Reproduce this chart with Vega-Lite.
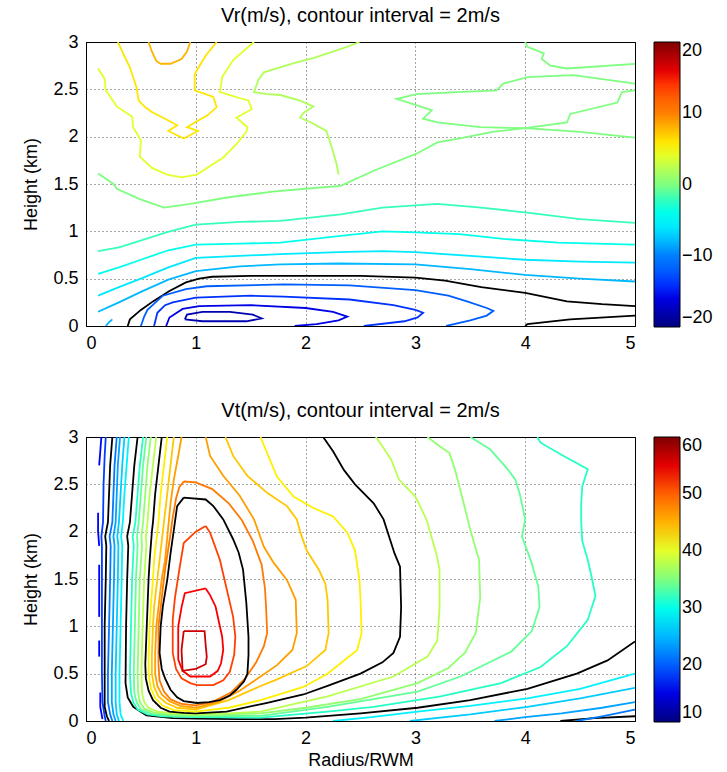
{
  "$schema": "https://vega.github.io/schema/vega-lite/v6.json",
  "background": "white",
  "padding": {"left": 22, "top": 5, "right": 5, "bottom": 5},
  "config": {
    "font": "Liberation Sans",
    "view": {"stroke": "#000", "strokeWidth": 1},
    "axis": {"labelFontSize": 18, "labelColor": "#000", "titleFontSize": 18, "titleFontWeight": "normal", "titleColor": "#000", "domainColor": "#000", "grid": true, "gridColor": "#000", "gridDash": [1, 3], "gridOpacity": 0.7, "ticks": false, "labelPadding": 8},
    "axisY": {"titlePadding": 12},
    "axisX": {"titlePadding": 4},
    "legend": {"title": null, "gradientLength": 285, "gradientThickness": 26, "labelFontSize": 18, "labelColor": "#000", "offset": 19, "padding": 0, "gradientStrokeColor": "#000", "gradientStrokeWidth": 1, "labelOffset": 4, "labelOverlap": false, "labelBaseline": "middle", "direction": "vertical", "labelExpr": "datum.value + ''"},
    "title": {"fontSize": 20, "fontWeight": "normal", "color": "#000", "offset": 7}
  },
  "resolve": {"scale": {"color": "independent"}, "legend": {"color": "independent"}},
  "spacing": 47,
  "vconcat": [
    {
      "title": "Vr(m/s), contour interval = 2m/s",
      "width": 549,
      "height": 284,
      "data": {"values": [
        {"c":"p8","v":8,"r":0.57,"z":3},{"c":"p8","v":8,"r":0.6,"z":2.9},{"c":"p8","v":8,"r":0.64,"z":2.8},{"c":"p8","v":8,"r":0.68,"z":2.77},{"c":"p8","v":8,"r":0.77,"z":2.77},{"c":"p8","v":8,"r":0.87,"z":2.82},{"c":"p8","v":8,"r":0.92,"z":2.9},{"c":"p8","v":8,"r":0.95,"z":3},
        {"c":"p6","v":6,"r":0.29,"z":3},{"c":"p6","v":6,"r":0.35,"z":2.85},{"c":"p6","v":6,"r":0.4,"z":2.73},{"c":"p6","v":6,"r":0.46,"z":2.52},{"c":"p6","v":6,"r":0.48,"z":2.38},{"c":"p6","v":6,"r":0.54,"z":2.31},{"c":"p6","v":6,"r":0.6,"z":2.26},{"c":"p6","v":6,"r":0.75,"z":2.17},{"c":"p6","v":6,"r":0.83,"z":2.12},{"c":"p6","v":6,"r":0.75,"z":2.06},{"c":"p6","v":6,"r":0.89,"z":1.98},{"c":"p6","v":6,"r":1.02,"z":2.06},{"c":"p6","v":6,"r":0.92,"z":2.1},{"c":"p6","v":6,"r":0.99,"z":2.15},{"c":"p6","v":6,"r":1.1,"z":2.22},{"c":"p6","v":6,"r":1.19,"z":2.31},{"c":"p6","v":6,"r":1.16,"z":2.42},{"c":"p6","v":6,"r":0.99,"z":2.49},{"c":"p6","v":6,"r":0.99,"z":2.66},{"c":"p6","v":6,"r":1.05,"z":2.78},{"c":"p6","v":6,"r":1.1,"z":2.87},{"c":"p6","v":6,"r":1.19,"z":3},
        {"c":"p4","v":4,"r":0.11,"z":2.72},{"c":"p4","v":4,"r":0.17,"z":2.61},{"c":"p4","v":4,"r":0.18,"z":2.49},{"c":"p4","v":4,"r":0.28,"z":2.32},{"c":"p4","v":4,"r":0.42,"z":2.21},{"c":"p4","v":4,"r":0.43,"z":2.1},{"c":"p4","v":4,"r":0.5,"z":1.96},{"c":"p4","v":4,"r":0.49,"z":1.79},{"c":"p4","v":4,"r":0.6,"z":1.67},{"c":"p4","v":4,"r":0.74,"z":1.6},{"c":"p4","v":4,"r":0.87,"z":1.57},{"c":"p4","v":4,"r":1.01,"z":1.6},{"c":"p4","v":4,"r":1.25,"z":1.78},{"c":"p4","v":4,"r":1.37,"z":1.92},{"c":"p4","v":4,"r":1.46,"z":2.05},{"c":"p4","v":4,"r":1.47,"z":2.1},{"c":"p4","v":4,"r":1.37,"z":2.2},{"c":"p4","v":4,"r":1.51,"z":2.29},{"c":"p4","v":4,"r":1.48,"z":2.38},{"c":"p4","v":4,"r":1.22,"z":2.47},{"c":"p4","v":4,"r":1.24,"z":2.63},{"c":"p4","v":4,"r":1.34,"z":2.81},{"c":"p4","v":4,"r":1.53,"z":3},
        {"c":"p2","v":2,"r":2.49,"z":3},{"c":"p2","v":2,"r":2.38,"z":2.95},{"c":"p2","v":2,"r":2.2,"z":2.88},{"c":"p2","v":2,"r":2.07,"z":2.83},{"c":"p2","v":2,"r":1.9,"z":2.78},{"c":"p2","v":2,"r":1.76,"z":2.73},{"c":"p2","v":2,"r":1.62,"z":2.68},{"c":"p2","v":2,"r":1.57,"z":2.6},{"c":"p2","v":2,"r":1.53,"z":2.47},{"c":"p2","v":2,"r":1.65,"z":2.45},{"c":"p2","v":2,"r":1.77,"z":2.44},{"c":"p2","v":2,"r":1.95,"z":2.38},{"c":"p2","v":2,"r":2.07,"z":2.32},{"c":"p2","v":2,"r":1.98,"z":2.25},{"c":"p2","v":2,"r":1.95,"z":2.2},{"c":"p2","v":2,"r":2.05,"z":2.15},{"c":"p2","v":2,"r":2.19,"z":2.06},{"c":"p2","v":2,"r":2.24,"z":1.88},{"c":"p2","v":2,"r":2.28,"z":1.72},{"c":"p2","v":2,"r":2.3,"z":1.6},
        {"c":"z0","v":0,"r":0.11,"z":1.61},{"c":"z0","v":0,"r":0.25,"z":1.5},{"c":"z0","v":0,"r":0.28,"z":1.45},{"c":"z0","v":0,"r":0.49,"z":1.34},{"c":"z0","v":0,"r":0.71,"z":1.25},{"c":"z0","v":0,"r":0.95,"z":1.29},{"c":"z0","v":0,"r":1.3,"z":1.36},{"c":"z0","v":0,"r":1.7,"z":1.42},{"c":"z0","v":0,"r":2.0,"z":1.45},{"c":"z0","v":0,"r":2.32,"z":1.48},{"c":"z0","v":0,"r":2.62,"z":1.64},{"c":"z0","v":0,"r":3.01,"z":1.82},{"c":"z0","v":0,"r":3.2,"z":1.94},{"c":"z0","v":0,"r":3.44,"z":1.99},{"c":"z0","v":0,"r":3.7,"z":2.05},{"c":"z0","v":0,"r":4.0,"z":2.09},{"c":"z0","v":0,"r":4.5,"z":2.05},{"c":"z0","v":0,"r":5,"z":1.99},
        {"c":"e0","v":0,"r":5,"z":2.56},{"c":"e0","v":0,"r":4.44,"z":2.65},{"c":"e0","v":0,"r":4.02,"z":2.63},{"c":"e0","v":0,"r":3.8,"z":2.56},{"c":"e0","v":0,"r":3.74,"z":2.49},{"c":"e0","v":0,"r":3.38,"z":2.47},{"c":"e0","v":0,"r":3.01,"z":2.45},{"c":"e0","v":0,"r":2.83,"z":2.4},{"c":"e0","v":0,"r":3.15,"z":2.28},{"c":"e0","v":0,"r":3.07,"z":2.19},{"c":"e0","v":0,"r":3.2,"z":2.15},{"c":"e0","v":0,"r":3.59,"z":2.1},{"c":"e0","v":0,"r":4.0,"z":2.09},{"c":"e0","v":0,"r":4.38,"z":2.15},{"c":"e0","v":0,"r":4.41,"z":2.24},{"c":"e0","v":0,"r":4.84,"z":2.36},{"c":"e0","v":0,"r":4.88,"z":2.47},{"c":"e0","v":0,"r":5,"z":2.49},
        {"c":"d0","v":0,"r":4.0,"z":3},{"c":"d0","v":0,"r":4.02,"z":2.95},{"c":"d0","v":0,"r":4.17,"z":2.88},{"c":"d0","v":0,"r":4.15,"z":2.82},{"c":"d0","v":0,"r":4.23,"z":2.75},{"c":"d0","v":0,"r":4.38,"z":2.72},{"c":"d0","v":0,"r":5,"z":2.77},
        {"c":"m2","v":-2,"r":0.11,"z":0.79},{"c":"m2","v":-2,"r":0.3,"z":0.83},{"c":"m2","v":-2,"r":0.49,"z":0.9},{"c":"m2","v":-2,"r":0.73,"z":0.99},{"c":"m2","v":-2,"r":1.0,"z":1.07},{"c":"m2","v":-2,"r":1.4,"z":1.1},{"c":"m2","v":-2,"r":1.77,"z":1.11},{"c":"m2","v":-2,"r":2.32,"z":1.18},{"c":"m2","v":-2,"r":2.7,"z":1.25},{"c":"m2","v":-2,"r":3.2,"z":1.29},{"c":"m2","v":-2,"r":3.6,"z":1.25},{"c":"m2","v":-2,"r":4.0,"z":1.2},{"c":"m2","v":-2,"r":4.5,"z":1.13},{"c":"m2","v":-2,"r":5,"z":1.09},
        {"c":"m4","v":-4,"r":0.11,"z":0.55},{"c":"m4","v":-4,"r":0.3,"z":0.62},{"c":"m4","v":-4,"r":0.5,"z":0.7},{"c":"m4","v":-4,"r":0.75,"z":0.8},{"c":"m4","v":-4,"r":1.0,"z":0.86},{"c":"m4","v":-4,"r":1.4,"z":0.87},{"c":"m4","v":-4,"r":1.77,"z":0.88},{"c":"m4","v":-4,"r":2.3,"z":0.95},{"c":"m4","v":-4,"r":2.7,"z":1.0},{"c":"m4","v":-4,"r":3.0,"z":0.99},{"c":"m4","v":-4,"r":3.4,"z":0.97},{"c":"m4","v":-4,"r":3.8,"z":0.92},{"c":"m4","v":-4,"r":4.3,"z":0.88},{"c":"m4","v":-4,"r":5,"z":0.86},
        {"c":"m6","v":-6,"r":0.11,"z":0.32},{"c":"m6","v":-6,"r":0.3,"z":0.41},{"c":"m6","v":-6,"r":0.5,"z":0.5},{"c":"m6","v":-6,"r":0.75,"z":0.62},{"c":"m6","v":-6,"r":1.0,"z":0.72},{"c":"m6","v":-6,"r":1.4,"z":0.74},{"c":"m6","v":-6,"r":1.77,"z":0.76},{"c":"m6","v":-6,"r":2.3,"z":0.78},{"c":"m6","v":-6,"r":2.7,"z":0.79},{"c":"m6","v":-6,"r":3.0,"z":0.78},{"c":"m6","v":-6,"r":3.5,"z":0.74},{"c":"m6","v":-6,"r":4.0,"z":0.7},{"c":"m6","v":-6,"r":4.5,"z":0.68},{"c":"m6","v":-6,"r":5,"z":0.67},
        {"c":"m8","v":-8,"r":0.11,"z":0.15},{"c":"m8","v":-8,"r":0.3,"z":0.25},{"c":"m8","v":-8,"r":0.5,"z":0.36},{"c":"m8","v":-8,"r":0.75,"z":0.49},{"c":"m8","v":-8,"r":1.0,"z":0.58},{"c":"m8","v":-8,"r":1.4,"z":0.63},{"c":"m8","v":-8,"r":1.77,"z":0.65},{"c":"m8","v":-8,"r":2.3,"z":0.66},{"c":"m8","v":-8,"r":3.0,"z":0.65},{"c":"m8","v":-8,"r":3.5,"z":0.6},{"c":"m8","v":-8,"r":4.0,"z":0.54},{"c":"m8","v":-8,"r":4.5,"z":0.5},{"c":"m8","v":-8,"r":5,"z":0.47},
        {"c":"m8b","v":-8,"r":0.18,"z":0},{"c":"m8b","v":-8,"r":0.21,"z":0.04},{"c":"m8b","v":-8,"r":0.24,"z":0.07},
        {"c":"k10","v":-10,"r":0.38,"z":0},{"c":"k10","v":-10,"r":0.4,"z":0.07},{"c":"k10","v":-10,"r":0.5,"z":0.17},{"c":"k10","v":-10,"r":0.61,"z":0.26},{"c":"k10","v":-10,"r":0.76,"z":0.37},{"c":"k10","v":-10,"r":0.91,"z":0.46},{"c":"k10","v":-10,"r":1.03,"z":0.5},{"c":"k10","v":-10,"r":1.15,"z":0.52},{"c":"k10","v":-10,"r":1.5,"z":0.53},{"c":"k10","v":-10,"r":1.82,"z":0.53},{"c":"k10","v":-10,"r":2.5,"z":0.53},{"c":"k10","v":-10,"r":3.0,"z":0.51},{"c":"k10","v":-10,"r":3.27,"z":0.48},{"c":"k10","v":-10,"r":3.6,"z":0.41},{"c":"k10","v":-10,"r":4.0,"z":0.35},{"c":"k10","v":-10,"r":4.38,"z":0.26},{"c":"k10","v":-10,"r":4.7,"z":0.23},{"c":"k10","v":-10,"r":5,"z":0.21},
        {"c":"k10b","v":-10,"r":4.0,"z":0},{"c":"k10b","v":-10,"r":4.02,"z":0.02},{"c":"k10b","v":-10,"r":4.41,"z":0.07},{"c":"k10b","v":-10,"r":5,"z":0.11},
        {"c":"m12","v":-12,"r":0.5,"z":0},{"c":"m12","v":-12,"r":0.53,"z":0.1},{"c":"m12","v":-12,"r":0.56,"z":0.17},{"c":"m12","v":-12,"r":0.7,"z":0.32},{"c":"m12","v":-12,"r":0.91,"z":0.39},{"c":"m12","v":-12,"r":1.1,"z":0.42},{"c":"m12","v":-12,"r":1.8,"z":0.44},{"c":"m12","v":-12,"r":2.4,"z":0.43},{"c":"m12","v":-12,"r":3.0,"z":0.38},{"c":"m12","v":-12,"r":3.3,"z":0.32},{"c":"m12","v":-12,"r":3.47,"z":0.26},{"c":"m12","v":-12,"r":3.65,"z":0.19},{"c":"m12","v":-12,"r":3.71,"z":0.16},{"c":"m12","v":-12,"r":3.65,"z":0.11},{"c":"m12","v":-12,"r":3.5,"z":0.06},{"c":"m12","v":-12,"r":3.28,"z":0},
        {"c":"m14","v":-14,"r":0.62,"z":0},{"c":"m14","v":-14,"r":0.65,"z":0.14},{"c":"m14","v":-14,"r":0.72,"z":0.22},{"c":"m14","v":-14,"r":0.79,"z":0.25},{"c":"m14","v":-14,"r":1.0,"z":0.3},{"c":"m14","v":-14,"r":1.5,"z":0.32},{"c":"m14","v":-14,"r":1.8,"z":0.31},{"c":"m14","v":-14,"r":2.4,"z":0.28},{"c":"m14","v":-14,"r":2.8,"z":0.22},{"c":"m14","v":-14,"r":3.0,"z":0.17},{"c":"m14","v":-14,"r":3.07,"z":0.14},{"c":"m14","v":-14,"r":3.02,"z":0.09},{"c":"m14","v":-14,"r":2.9,"z":0.05},{"c":"m14","v":-14,"r":2.53,"z":0},
        {"c":"m16","v":-16,"r":0.73,"z":0},{"c":"m16","v":-16,"r":0.76,"z":0.09},{"c":"m16","v":-16,"r":0.88,"z":0.18},{"c":"m16","v":-16,"r":1.03,"z":0.21},{"c":"m16","v":-16,"r":1.5,"z":0.22},{"c":"m16","v":-16,"r":2.0,"z":0.19},{"c":"m16","v":-16,"r":2.25,"z":0.15},{"c":"m16","v":-16,"r":2.38,"z":0.1},{"c":"m16","v":-16,"r":2.3,"z":0.06},{"c":"m16","v":-16,"r":2.1,"z":0.02},{"c":"m16","v":-16,"r":1.9,"z":0},
        {"c":"m18","v":-18,"r":0.9,"z":0.07},{"c":"m18","v":-18,"r":0.92,"z":0.12},{"c":"m18","v":-18,"r":1.06,"z":0.15},{"c":"m18","v":-18,"r":1.31,"z":0.15},{"c":"m18","v":-18,"r":1.52,"z":0.12},{"c":"m18","v":-18,"r":1.6,"z":0.08},{"c":"m18","v":-18,"r":1.46,"z":0.05},{"c":"m18","v":-18,"r":1.06,"z":0.05},{"c":"m18","v":-18,"r":0.9,"z":0.07}
      ]},
      "mark": {"type": "line", "order": false, "clip": true, "strokeWidth": 1.8},
      "encoding": {
        "detail": {"field": "c"},
        "x": {"field": "r", "type": "quantitative", "scale": {"domain": [0, 5], "nice": false, "zero": false}, "axis": {"values": [0, 1, 2, 3, 4, 5], "title": null}},
        "y": {"field": "z", "type": "quantitative", "scale": {"domain": [0, 3], "nice": false}, "axis": {"values": [0, 0.5, 1, 1.5, 2, 2.5, 3], "format": "~g", "title": "Height (km)"}},
        "color": {
          "condition": {"test": "datum.v % 10 === 0 && datum.v !== 0", "value": "#000"},
          "field": "v", "type": "quantitative",
          "scale": {"domain": [-20, -15, -10, -5, 0, 5, 10, 15, 20], "range": ["#00007f", "#0000ff", "#007fff", "#00ffff", "#7fff7f", "#ffff00", "#ff7f00", "#ff0000", "#7f0000"]},
          "legend": {"values": [-20, -10, 0, 10, 20]}
        }
      }
    },
    {
      "title": "Vt(m/s), contour interval = 2m/s",
      "width": 549,
      "height": 284,
      "data": {"values": [
        {"c":"s16a","v":16,"r":0.14,"z":3},{"c":"s16a","v":16,"r":0.13,"z":2.85},{"c":"s16a","v":16,"r":0.12,"z":2.7},
        {"c":"s16b","v":16,"r":0.11,"z":2.2},{"c":"s16b","v":16,"r":0.11,"z":2.0},{"c":"s16b","v":16,"r":0.12,"z":1.85},
        {"c":"s16c","v":16,"r":0.12,"z":1.65},{"c":"s16c","v":16,"r":0.12,"z":1.4},{"c":"s16c","v":16,"r":0.12,"z":1.1},
        {"c":"s16d","v":16,"r":0.12,"z":0.85},{"c":"s16d","v":16,"r":0.12,"z":0.68},
        {"c":"s16e","v":16,"r":0.13,"z":0.3},{"c":"s16e","v":16,"r":0.13,"z":0.15},{"c":"s16e","v":16,"r":0.15,"z":0.02},
        {"c":"s18","v":18,"r":0.18,"z":3},{"c":"s18","v":18,"r":0.17,"z":2.8},{"c":"s18","v":18,"r":0.16,"z":2.5},{"c":"s18","v":18,"r":0.155,"z":2.1},{"c":"s18","v":18,"r":0.14,"z":1.95},{"c":"s18","v":18,"r":0.145,"z":1.85},{"c":"s18","v":18,"r":0.145,"z":1.5},{"c":"s18","v":18,"r":0.145,"z":1.0},{"c":"s18","v":18,"r":0.145,"z":0.5},{"c":"s18","v":18,"r":0.15,"z":0.2},{"c":"s18","v":18,"r":0.17,"z":0.05},{"c":"s18","v":18,"r":0.18,"z":0},
        {"c":"k20","v":20,"r":0.24,"z":3},{"c":"k20","v":20,"r":0.22,"z":2.7},{"c":"k20","v":20,"r":0.21,"z":2.4},{"c":"k20","v":20,"r":0.2,"z":2.1},{"c":"k20","v":20,"r":0.175,"z":1.95},{"c":"k20","v":20,"r":0.185,"z":1.85},{"c":"k20","v":20,"r":0.18,"z":1.5},{"c":"k20","v":20,"r":0.17,"z":1.0},{"c":"k20","v":20,"r":0.17,"z":0.5},{"c":"k20","v":20,"r":0.17,"z":0.15},{"c":"k20","v":20,"r":0.19,"z":0.05},{"c":"k20","v":20,"r":0.21,"z":0},
        {"c":"k20b","v":20,"r":4.32,"z":0},{"c":"k20b","v":20,"r":4.63,"z":0.03},{"c":"k20b","v":20,"r":5,"z":0.05},
        {"c":"s22","v":22,"r":0.28,"z":3},{"c":"s22","v":22,"r":0.26,"z":2.7},{"c":"s22","v":22,"r":0.25,"z":2.4},{"c":"s22","v":22,"r":0.24,"z":2.1},{"c":"s22","v":22,"r":0.215,"z":1.95},{"c":"s22","v":22,"r":0.225,"z":1.85},{"c":"s22","v":22,"r":0.22,"z":1.5},{"c":"s22","v":22,"r":0.21,"z":1.0},{"c":"s22","v":22,"r":0.2,"z":0.5},{"c":"s22","v":22,"r":0.2,"z":0.2},{"c":"s22","v":22,"r":0.22,"z":0.07},{"c":"s22","v":22,"r":0.24,"z":0},
        {"c":"s22b","v":22,"r":4.47,"z":0},{"c":"s22b","v":22,"r":4.7,"z":0.05},{"c":"s22b","v":22,"r":5,"z":0.12},
        {"c":"s24","v":24,"r":0.31,"z":3},{"c":"s24","v":24,"r":0.29,"z":2.7},{"c":"s24","v":24,"r":0.28,"z":2.4},{"c":"s24","v":24,"r":0.27,"z":2.1},{"c":"s24","v":24,"r":0.25,"z":1.95},{"c":"s24","v":24,"r":0.26,"z":1.85},{"c":"s24","v":24,"r":0.255,"z":1.5},{"c":"s24","v":24,"r":0.245,"z":1.0},{"c":"s24","v":24,"r":0.235,"z":0.5},{"c":"s24","v":24,"r":0.235,"z":0.2},{"c":"s24","v":24,"r":0.25,"z":0.07},{"c":"s24","v":24,"r":0.27,"z":0},
        {"c":"s24b","v":24,"r":3.72,"z":0},{"c":"s24b","v":24,"r":4.0,"z":0.04},{"c":"s24b","v":24,"r":4.33,"z":0.08},{"c":"s24b","v":24,"r":4.7,"z":0.14},{"c":"s24b","v":24,"r":5,"z":0.2},
        {"c":"s26","v":26,"r":0.35,"z":3},{"c":"s26","v":26,"r":0.33,"z":2.7},{"c":"s26","v":26,"r":0.315,"z":2.4},{"c":"s26","v":26,"r":0.3,"z":2.1},{"c":"s26","v":26,"r":0.285,"z":1.95},{"c":"s26","v":26,"r":0.295,"z":1.85},{"c":"s26","v":26,"r":0.29,"z":1.5},{"c":"s26","v":26,"r":0.28,"z":1.0},{"c":"s26","v":26,"r":0.27,"z":0.5},{"c":"s26","v":26,"r":0.27,"z":0.2},{"c":"s26","v":26,"r":0.28,"z":0.07},{"c":"s26","v":26,"r":0.3,"z":0},
        {"c":"s26b","v":26,"r":2.95,"z":0},{"c":"s26b","v":26,"r":3.5,"z":0.07},{"c":"s26b","v":26,"r":4.02,"z":0.15},{"c":"s26b","v":26,"r":4.5,"z":0.24},{"c":"s26b","v":26,"r":5,"z":0.35},
        {"c":"s28","v":28,"r":0.39,"z":3},{"c":"s28","v":28,"r":0.37,"z":2.7},{"c":"s28","v":28,"r":0.35,"z":2.4},{"c":"s28","v":28,"r":0.335,"z":2.1},{"c":"s28","v":28,"r":0.32,"z":1.95},{"c":"s28","v":28,"r":0.33,"z":1.85},{"c":"s28","v":28,"r":0.325,"z":1.5},{"c":"s28","v":28,"r":0.315,"z":1.0},{"c":"s28","v":28,"r":0.305,"z":0.5},{"c":"s28","v":28,"r":0.305,"z":0.2},{"c":"s28","v":28,"r":0.315,"z":0.07},{"c":"s28","v":28,"r":0.34,"z":0},
        {"c":"s28b","v":28,"r":2.25,"z":0},{"c":"s28b","v":28,"r":2.6,"z":0.04},{"c":"s28b","v":28,"r":3.02,"z":0.1},{"c":"s28b","v":28,"r":3.5,"z":0.16},{"c":"s28b","v":28,"r":4.02,"z":0.24},{"c":"s28b","v":28,"r":4.5,"z":0.34},{"c":"s28b","v":28,"r":5,"z":0.5},
        {"c":"k30","v":30,"r":0.47,"z":3},{"c":"k30","v":30,"r":0.44,"z":2.7},{"c":"k30","v":30,"r":0.42,"z":2.4},{"c":"k30","v":30,"r":0.4,"z":2.1},{"c":"k30","v":30,"r":0.375,"z":1.95},{"c":"k30","v":30,"r":0.385,"z":1.85},{"c":"k30","v":30,"r":0.375,"z":1.5},{"c":"k30","v":30,"r":0.365,"z":1.0},{"c":"k30","v":30,"r":0.36,"z":0.4},{"c":"k30","v":30,"r":0.38,"z":0.25},{"c":"k30","v":30,"r":0.43,"z":0.15},{"c":"k30","v":30,"r":0.55,"z":0.06},{"c":"k30","v":30,"r":0.79,"z":0.03},{"c":"k30","v":30,"r":1.0,"z":0.025},{"c":"k30","v":30,"r":1.4,"z":0.02},{"c":"k30","v":30,"r":1.72,"z":0.02},{"c":"k30","v":30,"r":2.0,"z":0.035},{"c":"k30","v":30,"r":2.5,"z":0.08},{"c":"k30","v":30,"r":3.02,"z":0.14},{"c":"k30","v":30,"r":3.5,"z":0.22},{"c":"k30","v":30,"r":4.02,"z":0.34},{"c":"k30","v":30,"r":4.47,"z":0.5},{"c":"k30","v":30,"r":4.75,"z":0.64},{"c":"k30","v":30,"r":5,"z":0.84},
        {"c":"s32","v":32,"r":0.52,"z":3},{"c":"s32","v":32,"r":0.49,"z":2.7},{"c":"s32","v":32,"r":0.47,"z":2.4},{"c":"s32","v":32,"r":0.45,"z":2.1},{"c":"s32","v":32,"r":0.425,"z":1.95},{"c":"s32","v":32,"r":0.435,"z":1.85},{"c":"s32","v":32,"r":0.42,"z":1.5},{"c":"s32","v":32,"r":0.41,"z":1.0},{"c":"s32","v":32,"r":0.4,"z":0.5},{"c":"s32","v":32,"r":0.41,"z":0.3},{"c":"s32","v":32,"r":0.43,"z":0.2},{"c":"s32","v":32,"r":0.47,"z":0.12},{"c":"s32","v":32,"r":0.56,"z":0.07},{"c":"s32","v":32,"r":0.7,"z":0.05},{"c":"s32","v":32,"r":1.0,"z":0.04},{"c":"s32","v":32,"r":1.59,"z":0.035},{"c":"s32","v":32,"r":2.2,"z":0.1},{"c":"s32","v":32,"r":2.62,"z":0.15},{"c":"s32","v":32,"r":3.23,"z":0.26},{"c":"s32","v":32,"r":3.78,"z":0.4},{"c":"s32","v":32,"r":4.14,"z":0.57},{"c":"s32","v":32,"r":4.38,"z":0.79},{"c":"s32","v":32,"r":4.57,"z":1.07},{"c":"s32","v":32,"r":4.64,"z":1.32},{"c":"s32","v":32,"r":4.6,"z":1.55},{"c":"s32","v":32,"r":4.57,"z":1.7},{"c":"s32","v":32,"r":4.52,"z":1.9},{"c":"s32","v":32,"r":4.51,"z":2.1},{"c":"s32","v":32,"r":4.51,"z":2.3},{"c":"s32","v":32,"r":4.52,"z":2.48},{"c":"s32","v":32,"r":4.57,"z":2.66},{"c":"s32","v":32,"r":4.35,"z":2.8},{"c":"s32","v":32,"r":4.14,"z":2.94},{"c":"s32","v":32,"r":4.11,"z":3},
        {"c":"s34","v":34,"r":0.55,"z":3},{"c":"s34","v":34,"r":0.52,"z":2.7},{"c":"s34","v":34,"r":0.5,"z":2.4},{"c":"s34","v":34,"r":0.48,"z":2.1},{"c":"s34","v":34,"r":0.465,"z":1.95},{"c":"s34","v":34,"r":0.47,"z":1.85},{"c":"s34","v":34,"r":0.455,"z":1.5},{"c":"s34","v":34,"r":0.445,"z":1.0},{"c":"s34","v":34,"r":0.435,"z":0.5},{"c":"s34","v":34,"r":0.44,"z":0.3},{"c":"s34","v":34,"r":0.46,"z":0.2},{"c":"s34","v":34,"r":0.5,"z":0.12},{"c":"s34","v":34,"r":0.6,"z":0.075},{"c":"s34","v":34,"r":0.75,"z":0.058},{"c":"s34","v":34,"r":1.0,"z":0.05},{"c":"s34","v":34,"r":1.59,"z":0.055},{"c":"s34","v":34,"r":2.2,"z":0.15},{"c":"s34","v":34,"r":3.02,"z":0.31},{"c":"s34","v":34,"r":3.41,"z":0.47},{"c":"s34","v":34,"r":3.87,"z":0.73},{"c":"s34","v":34,"r":4.06,"z":0.95},{"c":"s34","v":34,"r":4.13,"z":1.2},{"c":"s34","v":34,"r":4.12,"z":1.42},{"c":"s34","v":34,"r":4.05,"z":1.7},{"c":"s34","v":34,"r":3.97,"z":1.95},{"c":"s34","v":34,"r":4.0,"z":2.13},{"c":"s34","v":34,"r":3.95,"z":2.4},{"c":"s34","v":34,"r":3.91,"z":2.55},{"c":"s34","v":34,"r":3.84,"z":2.66},{"c":"s34","v":34,"r":3.68,"z":2.87},{"c":"s34","v":34,"r":3.5,"z":3},
        {"c":"s36","v":36,"r":0.59,"z":3},{"c":"s36","v":36,"r":0.56,"z":2.7},{"c":"s36","v":36,"r":0.54,"z":2.4},{"c":"s36","v":36,"r":0.52,"z":2.1},{"c":"s36","v":36,"r":0.505,"z":1.95},{"c":"s36","v":36,"r":0.51,"z":1.85},{"c":"s36","v":36,"r":0.49,"z":1.5},{"c":"s36","v":36,"r":0.48,"z":1.0},{"c":"s36","v":36,"r":0.47,"z":0.5},{"c":"s36","v":36,"r":0.475,"z":0.3},{"c":"s36","v":36,"r":0.49,"z":0.2},{"c":"s36","v":36,"r":0.53,"z":0.13},{"c":"s36","v":36,"r":0.62,"z":0.088},{"c":"s36","v":36,"r":0.75,"z":0.07},{"c":"s36","v":36,"r":1.0,"z":0.062},{"c":"s36","v":36,"r":1.59,"z":0.08},{"c":"s36","v":36,"r":2.0,"z":0.14},{"c":"s36","v":36,"r":2.5,"z":0.23},{"c":"s36","v":36,"r":3.02,"z":0.4},{"c":"s36","v":36,"r":3.3,"z":0.56},{"c":"s36","v":36,"r":3.45,"z":0.72},{"c":"s36","v":36,"r":3.55,"z":0.93},{"c":"s36","v":36,"r":3.59,"z":1.3},{"c":"s36","v":36,"r":3.58,"z":1.7},{"c":"s36","v":36,"r":3.5,"z":2.02},{"c":"s36","v":36,"r":3.44,"z":2.3},{"c":"s36","v":36,"r":3.36,"z":2.66},{"c":"s36","v":36,"r":3.31,"z":2.83},{"c":"s36","v":36,"r":3.2,"z":2.92},{"c":"s36","v":36,"r":3.11,"z":3},
        {"c":"s38","v":38,"r":0.64,"z":3},{"c":"s38","v":38,"r":0.61,"z":2.7},{"c":"s38","v":38,"r":0.58,"z":2.4},{"c":"s38","v":38,"r":0.56,"z":2.1},{"c":"s38","v":38,"r":0.545,"z":1.95},{"c":"s38","v":38,"r":0.55,"z":1.85},{"c":"s38","v":38,"r":0.53,"z":1.5},{"c":"s38","v":38,"r":0.515,"z":1.0},{"c":"s38","v":38,"r":0.505,"z":0.5},{"c":"s38","v":38,"r":0.51,"z":0.3},{"c":"s38","v":38,"r":0.53,"z":0.2},{"c":"s38","v":38,"r":0.57,"z":0.14},{"c":"s38","v":38,"r":0.65,"z":0.1},{"c":"s38","v":38,"r":0.8,"z":0.08},{"c":"s38","v":38,"r":1.0,"z":0.072},{"c":"s38","v":38,"r":1.3,"z":0.08},{"c":"s38","v":38,"r":1.59,"z":0.1},{"c":"s38","v":38,"r":2.2,"z":0.26},{"c":"s38","v":38,"r":2.8,"z":0.47},{"c":"s38","v":38,"r":3.11,"z":0.68},{"c":"s38","v":38,"r":3.2,"z":0.85},{"c":"s38","v":38,"r":3.22,"z":1.2},{"c":"s38","v":38,"r":3.22,"z":1.6},{"c":"s38","v":38,"r":3.19,"z":1.77},{"c":"s38","v":38,"r":3.1,"z":2.13},{"c":"s38","v":38,"r":3.0,"z":2.37},{"c":"s38","v":38,"r":2.85,"z":2.55},{"c":"s38","v":38,"r":2.78,"z":2.76},{"c":"s38","v":38,"r":2.7,"z":2.9},{"c":"s38","v":38,"r":2.64,"z":3},
        {"c":"k40","v":40,"r":0.69,"z":3},{"c":"k40","v":40,"r":0.66,"z":2.7},{"c":"k40","v":40,"r":0.63,"z":2.4},{"c":"k40","v":40,"r":0.61,"z":2.1},{"c":"k40","v":40,"r":0.6,"z":2.0},{"c":"k40","v":40,"r":0.58,"z":1.7},{"c":"k40","v":40,"r":0.57,"z":1.5},{"c":"k40","v":40,"r":0.56,"z":1.2},{"c":"k40","v":40,"r":0.55,"z":0.9},{"c":"k40","v":40,"r":0.54,"z":0.6},{"c":"k40","v":40,"r":0.545,"z":0.45},{"c":"k40","v":40,"r":0.57,"z":0.32},{"c":"k40","v":40,"r":0.61,"z":0.22},{"c":"k40","v":40,"r":0.68,"z":0.14},{"c":"k40","v":40,"r":0.76,"z":0.1},{"c":"k40","v":40,"r":0.89,"z":0.085},{"c":"k40","v":40,"r":1.0,"z":0.08},{"c":"k40","v":40,"r":1.28,"z":0.1},{"c":"k40","v":40,"r":1.64,"z":0.19},{"c":"k40","v":40,"r":1.98,"z":0.28},{"c":"k40","v":40,"r":2.2,"z":0.37},{"c":"k40","v":40,"r":2.5,"z":0.5},{"c":"k40","v":40,"r":2.7,"z":0.62},{"c":"k40","v":40,"r":2.8,"z":0.72},{"c":"k40","v":40,"r":2.86,"z":0.89},{"c":"k40","v":40,"r":2.87,"z":1.2},{"c":"k40","v":40,"r":2.86,"z":1.63},{"c":"k40","v":40,"r":2.81,"z":1.77},{"c":"k40","v":40,"r":2.71,"z":2.13},{"c":"k40","v":40,"r":2.62,"z":2.3},{"c":"k40","v":40,"r":2.45,"z":2.5},{"c":"k40","v":40,"r":2.35,"z":2.65},{"c":"k40","v":40,"r":2.25,"z":2.85},{"c":"k40","v":40,"r":2.16,"z":3},
        {"c":"s42","v":42,"r":0.74,"z":3},{"c":"s42","v":42,"r":0.71,"z":2.7},{"c":"s42","v":42,"r":0.68,"z":2.4},{"c":"s42","v":42,"r":0.66,"z":2.1},{"c":"s42","v":42,"r":0.65,"z":2.0},{"c":"s42","v":42,"r":0.62,"z":1.7},{"c":"s42","v":42,"r":0.61,"z":1.5},{"c":"s42","v":42,"r":0.59,"z":1.2},{"c":"s42","v":42,"r":0.58,"z":1.0},{"c":"s42","v":42,"r":0.57,"z":0.7},{"c":"s42","v":42,"r":0.57,"z":0.5},{"c":"s42","v":42,"r":0.59,"z":0.35},{"c":"s42","v":42,"r":0.63,"z":0.24},{"c":"s42","v":42,"r":0.7,"z":0.16},{"c":"s42","v":42,"r":0.8,"z":0.115},{"c":"s42","v":42,"r":1.0,"z":0.1},{"c":"s42","v":42,"r":1.3,"z":0.14},{"c":"s42","v":42,"r":1.59,"z":0.22},{"c":"s42","v":42,"r":1.98,"z":0.36},{"c":"s42","v":42,"r":2.2,"z":0.5},{"c":"s42","v":42,"r":2.47,"z":0.75},{"c":"s42","v":42,"r":2.51,"z":0.93},{"c":"s42","v":42,"r":2.5,"z":1.28},{"c":"s42","v":42,"r":2.49,"z":1.5},{"c":"s42","v":42,"r":2.45,"z":1.8},{"c":"s42","v":42,"r":2.38,"z":1.99},{"c":"s42","v":42,"r":2.25,"z":2.16},{"c":"s42","v":42,"r":2.07,"z":2.25},{"c":"s42","v":42,"r":1.89,"z":2.37},{"c":"s42","v":42,"r":1.74,"z":2.58},{"c":"s42","v":42,"r":1.65,"z":2.83},{"c":"s42","v":42,"r":1.59,"z":3},
        {"c":"s44","v":44,"r":0.8,"z":3},{"c":"s44","v":44,"r":0.77,"z":2.7},{"c":"s44","v":44,"r":0.74,"z":2.4},{"c":"s44","v":44,"r":0.71,"z":2.1},{"c":"s44","v":44,"r":0.7,"z":2.0},{"c":"s44","v":44,"r":0.67,"z":1.7},{"c":"s44","v":44,"r":0.65,"z":1.5},{"c":"s44","v":44,"r":0.62,"z":1.2},{"c":"s44","v":44,"r":0.61,"z":1.0},{"c":"s44","v":44,"r":0.6,"z":0.7},{"c":"s44","v":44,"r":0.6,"z":0.5},{"c":"s44","v":44,"r":0.62,"z":0.36},{"c":"s44","v":44,"r":0.66,"z":0.26},{"c":"s44","v":44,"r":0.73,"z":0.19},{"c":"s44","v":44,"r":0.83,"z":0.14},{"c":"s44","v":44,"r":1.0,"z":0.12},{"c":"s44","v":44,"r":1.3,"z":0.22},{"c":"s44","v":44,"r":1.59,"z":0.37},{"c":"s44","v":44,"r":1.74,"z":0.44},{"c":"s44","v":44,"r":2.01,"z":0.58},{"c":"s44","v":44,"r":2.18,"z":0.75},{"c":"s44","v":44,"r":2.21,"z":0.93},{"c":"s44","v":44,"r":2.2,"z":1.28},{"c":"s44","v":44,"r":2.18,"z":1.45},{"c":"s44","v":44,"r":2.12,"z":1.6},{"c":"s44","v":44,"r":2.01,"z":1.8},{"c":"s44","v":44,"r":1.95,"z":2.0},{"c":"s44","v":44,"r":1.92,"z":2.13},{"c":"s44","v":44,"r":1.83,"z":2.27},{"c":"s44","v":44,"r":1.65,"z":2.41},{"c":"s44","v":44,"r":1.47,"z":2.59},{"c":"s44","v":44,"r":1.34,"z":2.8},{"c":"s44","v":44,"r":1.27,"z":3},
        {"c":"s46","v":46,"r":0.87,"z":3},{"c":"s46","v":46,"r":0.84,"z":2.8},{"c":"s46","v":46,"r":0.8,"z":2.55},{"c":"s46","v":46,"r":0.77,"z":2.3},{"c":"s46","v":46,"r":0.745,"z":2.0},{"c":"s46","v":46,"r":0.72,"z":1.7},{"c":"s46","v":46,"r":0.69,"z":1.5},{"c":"s46","v":46,"r":0.66,"z":1.2},{"c":"s46","v":46,"r":0.64,"z":1.0},{"c":"s46","v":46,"r":0.63,"z":0.7},{"c":"s46","v":46,"r":0.63,"z":0.5},{"c":"s46","v":46,"r":0.65,"z":0.37},{"c":"s46","v":46,"r":0.69,"z":0.28},{"c":"s46","v":46,"r":0.76,"z":0.21},{"c":"s46","v":46,"r":0.86,"z":0.16},{"c":"s46","v":46,"r":1.0,"z":0.14},{"c":"s46","v":46,"r":1.2,"z":0.2},{"c":"s46","v":46,"r":1.4,"z":0.32},{"c":"s46","v":46,"r":1.59,"z":0.47},{"c":"s46","v":46,"r":1.74,"z":0.59},{"c":"s46","v":46,"r":1.88,"z":0.75},{"c":"s46","v":46,"r":1.92,"z":0.93},{"c":"s46","v":46,"r":1.91,"z":1.28},{"c":"s46","v":46,"r":1.83,"z":1.49},{"c":"s46","v":46,"r":1.71,"z":1.67},{"c":"s46","v":46,"r":1.62,"z":1.84},{"c":"s46","v":46,"r":1.53,"z":2.13},{"c":"s46","v":46,"r":1.4,"z":2.38},{"c":"s46","v":46,"r":1.25,"z":2.59},{"c":"s46","v":46,"r":1.13,"z":2.8},{"c":"s46","v":46,"r":1.09,"z":3},
        {"c":"s48","v":48,"r":0.89,"z":2.53},{"c":"s48","v":48,"r":1.0,"z":2.52},{"c":"s48","v":48,"r":1.15,"z":2.45},{"c":"s48","v":48,"r":1.3,"z":2.3},{"c":"s48","v":48,"r":1.42,"z":2.12},{"c":"s48","v":48,"r":1.52,"z":1.9},{"c":"s48","v":48,"r":1.6,"z":1.65},{"c":"s48","v":48,"r":1.63,"z":1.4},{"c":"s48","v":48,"r":1.64,"z":1.2},{"c":"s48","v":48,"r":1.65,"z":0.93},{"c":"s48","v":48,"r":1.62,"z":0.79},{"c":"s48","v":48,"r":1.55,"z":0.62},{"c":"s48","v":48,"r":1.45,"z":0.45},{"c":"s48","v":48,"r":1.32,"z":0.3},{"c":"s48","v":48,"r":1.15,"z":0.2},{"c":"s48","v":48,"r":1.0,"z":0.165},{"c":"s48","v":48,"r":0.87,"z":0.18},{"c":"s48","v":48,"r":0.77,"z":0.23},{"c":"s48","v":48,"r":0.71,"z":0.31},{"c":"s48","v":48,"r":0.67,"z":0.43},{"c":"s48","v":48,"r":0.66,"z":0.6},{"c":"s48","v":48,"r":0.66,"z":1.0},{"c":"s48","v":48,"r":0.69,"z":1.3},{"c":"s48","v":48,"r":0.72,"z":1.6},{"c":"s48","v":48,"r":0.76,"z":1.9},{"c":"s48","v":48,"r":0.79,"z":2.15},{"c":"s48","v":48,"r":0.82,"z":2.35},{"c":"s48","v":48,"r":0.85,"z":2.47},{"c":"s48","v":48,"r":0.89,"z":2.53},
        {"c":"k50","v":50,"r":0.89,"z":2.36},{"c":"k50","v":50,"r":0.83,"z":2.27},{"c":"k50","v":50,"r":0.8,"z":2.02},{"c":"k50","v":50,"r":0.77,"z":1.77},{"c":"k50","v":50,"r":0.74,"z":1.49},{"c":"k50","v":50,"r":0.7,"z":1.21},{"c":"k50","v":50,"r":0.68,"z":1.0},{"c":"k50","v":50,"r":0.67,"z":0.72},{"c":"k50","v":50,"r":0.69,"z":0.55},{"c":"k50","v":50,"r":0.72,"z":0.45},{"c":"k50","v":50,"r":0.77,"z":0.33},{"c":"k50","v":50,"r":0.83,"z":0.25},{"c":"k50","v":50,"r":0.89,"z":0.21},{"c":"k50","v":50,"r":1.01,"z":0.19},{"c":"k50","v":50,"r":1.12,"z":0.2},{"c":"k50","v":50,"r":1.22,"z":0.22},{"c":"k50","v":50,"r":1.31,"z":0.27},{"c":"k50","v":50,"r":1.37,"z":0.33},{"c":"k50","v":50,"r":1.44,"z":0.42},{"c":"k50","v":50,"r":1.47,"z":0.5},{"c":"k50","v":50,"r":1.48,"z":0.7},{"c":"k50","v":50,"r":1.48,"z":0.89},{"c":"k50","v":50,"r":1.46,"z":1.25},{"c":"k50","v":50,"r":1.43,"z":1.6},{"c":"k50","v":50,"r":1.39,"z":1.78},{"c":"k50","v":50,"r":1.34,"z":1.92},{"c":"k50","v":50,"r":1.25,"z":2.13},{"c":"k50","v":50,"r":1.16,"z":2.27},{"c":"k50","v":50,"r":1.09,"z":2.34},{"c":"k50","v":50,"r":0.89,"z":2.36},
        {"c":"s52","v":52,"r":1.09,"z":2.06},{"c":"s52","v":52,"r":1.0,"z":2.0},{"c":"s52","v":52,"r":0.89,"z":1.88},{"c":"s52","v":52,"r":0.85,"z":1.6},{"c":"s52","v":52,"r":0.81,"z":1.3},{"c":"s52","v":52,"r":0.79,"z":1.07},{"c":"s52","v":52,"r":0.79,"z":0.72},{"c":"s52","v":52,"r":0.82,"z":0.55},{"c":"s52","v":52,"r":0.87,"z":0.45},{"c":"s52","v":52,"r":0.95,"z":0.4},{"c":"s52","v":52,"r":1.01,"z":0.38},{"c":"s52","v":52,"r":1.16,"z":0.38},{"c":"s52","v":52,"r":1.25,"z":0.43},{"c":"s52","v":52,"r":1.31,"z":0.52},{"c":"s52","v":52,"r":1.35,"z":0.7},{"c":"s52","v":52,"r":1.36,"z":0.89},{"c":"s52","v":52,"r":1.34,"z":1.1},{"c":"s52","v":52,"r":1.31,"z":1.25},{"c":"s52","v":52,"r":1.22,"z":1.7},{"c":"s52","v":52,"r":1.13,"z":1.99},{"c":"s52","v":52,"r":1.09,"z":2.06},
        {"c":"s54","v":54,"r":1.09,"z":1.4},{"c":"s54","v":54,"r":0.9,"z":1.35},{"c":"s54","v":54,"r":0.87,"z":1.2},{"c":"s54","v":54,"r":0.84,"z":1.0},{"c":"s54","v":54,"r":0.84,"z":0.65},{"c":"s54","v":54,"r":0.88,"z":0.53},{"c":"s54","v":54,"r":0.95,"z":0.47},{"c":"s54","v":54,"r":1.13,"z":0.47},{"c":"s54","v":54,"r":1.2,"z":0.53},{"c":"s54","v":54,"r":1.23,"z":0.61},{"c":"s54","v":54,"r":1.25,"z":0.75},{"c":"s54","v":54,"r":1.24,"z":0.89},{"c":"s54","v":54,"r":1.18,"z":1.21},{"c":"s54","v":54,"r":1.13,"z":1.33},{"c":"s54","v":54,"r":1.09,"z":1.4},
        {"c":"s56","v":56,"r":0.89,"z":0.95},{"c":"s56","v":56,"r":1.08,"z":0.95},{"c":"s56","v":56,"r":1.09,"z":0.8},{"c":"s56","v":56,"r":1.1,"z":0.68},{"c":"s56","v":56,"r":1.09,"z":0.6},{"c":"s56","v":56,"r":1.0,"z":0.55},{"c":"s56","v":56,"r":0.88,"z":0.53},{"c":"s56","v":56,"r":0.87,"z":0.75},{"c":"s56","v":56,"r":0.89,"z":0.95}
      ]},
      "mark": {"type": "line", "order": false, "clip": true, "strokeWidth": 1.8},
      "encoding": {
        "detail": {"field": "c"},
        "x": {"field": "r", "type": "quantitative", "scale": {"domain": [0, 5], "nice": false, "zero": false}, "axis": {"values": [0, 1, 2, 3, 4, 5], "title": "Radius/RWM"}},
        "y": {"field": "z", "type": "quantitative", "scale": {"domain": [0, 3], "nice": false}, "axis": {"values": [0, 0.5, 1, 1.5, 2, 2.5, 3], "format": "~g", "title": "Height (km)"}},
        "color": {
          "condition": {"test": "datum.v % 10 === 0", "value": "#000"},
          "field": "v", "type": "quantitative",
          "scale": {"domain": [10, 16.25, 22.5, 28.75, 35, 41.25, 47.5, 53.75, 60], "range": ["#00007f", "#0000ff", "#007fff", "#00ffff", "#7fff7f", "#ffff00", "#ff7f00", "#ff0000", "#7f0000"]},
          "legend": {"values": [10, 20, 30, 40, 50, 60]}
        }
      }
    }
  ]
}
